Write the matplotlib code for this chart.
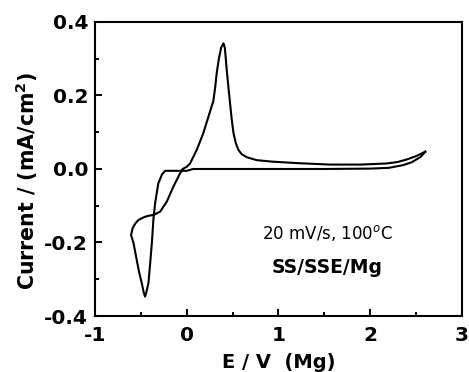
import matplotlib
matplotlib.use("Agg")
import matplotlib.pyplot as plt
from matplotlib.ticker import MultipleLocator

plt.rcParams['font.family'] = ['DejaVu Sans']
plt.rcParams['axes.unicode_minus'] = False

# Cyclic voltammogram trace (E in V vs Mg, current in mA/cm^2)
E = [2.60, 2.55, 2.45, 2.35, 2.20, 2.00, 1.50, 1.00, 0.50, 0.20, 0.07, 0.0,
     -0.10, -0.20, -0.236, -0.27, -0.31, -0.345, -0.364, -0.38, -0.40,
     -0.418, -0.44, -0.455, -0.47, -0.49, -0.52, -0.545, -0.58, -0.607,
     -0.59, -0.56, -0.527, -0.49, -0.455, -0.41, -0.364, -0.33, -0.29,
     -0.218, -0.146, -0.073, -0.044, 0.0, 0.036, 0.109, 0.18, 0.236, 0.29,
     0.31, 0.327, 0.35, 0.375, 0.40, 0.415, 0.436, 0.455, 0.472, 0.49, 0.51,
     0.535, 0.563, 0.60, 0.654, 0.763, 0.93, 1.20, 1.56, 1.90, 2.18,
     2.30, 2.40, 2.50, 2.60]
I = [0.047, 0.033, 0.018, 0.010, 0.003, 0.001, 0.0, 0.0, 0.0, 0.0, 0.0, -0.005,
     -0.005, -0.005, -0.005, -0.015, -0.039, -0.093, -0.139, -0.20, -0.26,
     -0.311, -0.335, -0.347, -0.335, -0.311, -0.28, -0.248, -0.202, -0.18,
     -0.161, -0.148, -0.139, -0.134, -0.13, -0.127, -0.125, -0.121, -0.116,
     -0.089, -0.048, -0.012, 0.0, 0.006, 0.015, 0.052, 0.097, 0.142, 0.185,
     0.222, 0.262, 0.30, 0.33, 0.342, 0.33, 0.269, 0.22, 0.179, 0.135, 0.097,
     0.07, 0.052, 0.040, 0.032, 0.024, 0.020, 0.016, 0.012, 0.012, 0.015,
     0.019, 0.026, 0.035, 0.047]

x_ticks = [-1, 0, 1, 2, 3]
y_ticks = [-0.4, -0.2, 0.0, 0.2, 0.4]
x_label = "E / V  (Mg)"
y_label = "Current / (mA/cm$^\\mathbf{2}$)"
note1 = "20 mV/s, 100$^o$C"
note2 = "SS/SSE/Mg"

fig = plt.figure(figsize=(4.69, 3.72), dpi=100)
ax = fig.add_axes([0.2026, 0.1505, 0.7824, 0.7905])
ax.plot(E, I, color='black', lw=1.5)

ax.set_xlim(-1, 3)
ax.set_ylim(-0.4, 0.4)
ax.set_xticks(x_ticks)
ax.set_yticks(y_ticks)
ax.set_xticklabels([f"{t:g}" for t in x_ticks])
ax.set_yticklabels([f"{t:.1f}" for t in y_ticks])
ax.xaxis.set_minor_locator(MultipleLocator(0.5))
ax.yaxis.set_minor_locator(MultipleLocator(0.1))
ax.tick_params(which='both', direction='in', top=False, right=False,
               labelsize=14.5, width=1.4)
ax.tick_params(which='major', length=5)
ax.tick_params(axis='x', which='major', pad=7)
ax.tick_params(axis='y', which='major', pad=5)
ax.tick_params(which='minor', length=3)
for lbl in ax.get_xticklabels() + ax.get_yticklabels():
    lbl.set_fontweight('bold')
for s in ax.spines.values():
    s.set_linewidth(1.5)

ax.set_xlabel(x_label, fontsize=14, fontweight='bold', labelpad=6)
ax.set_ylabel(y_label, fontsize=14.8, fontweight='bold', va='center')
ax.yaxis.set_label_coords(-0.185, 0.46)

ax.text(1.53, -0.173, note1, fontsize=12, ha='center', va='center')
ax.text(1.53, -0.269, note2, fontsize=13.5, fontweight='bold', ha='center', va='center')

fig.savefig("out.png", dpi=100)
